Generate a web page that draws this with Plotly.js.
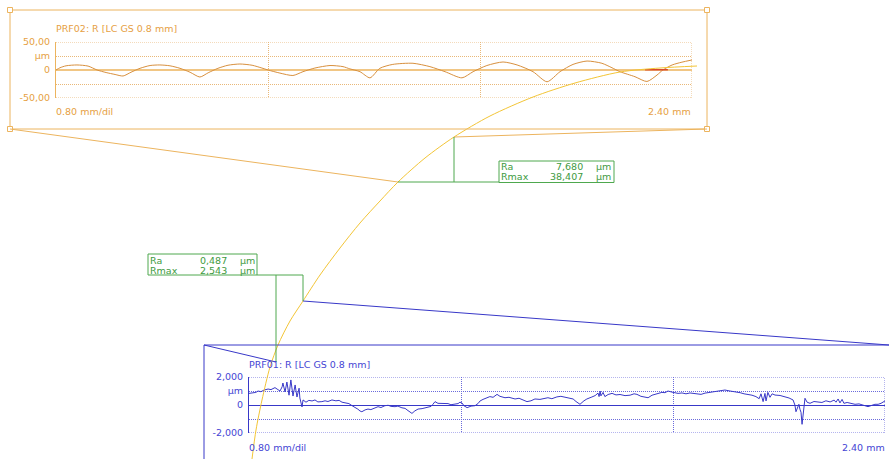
<!DOCTYPE html>
<html><head><meta charset="utf-8">
<script src="https://cdn.plot.ly/plotly-3.0.1.min.js"></script>
<style>html,body{margin:0;padding:0;background:#fff}#chart{width:889px;height:459px}</style>
</head><body><div id="chart"></div>
<script>
// PRF02 (orange) profile: position in mm, height in µm
const prf02X = [0.000,0.015,0.038,0.079,0.121,0.155,0.189,0.223,0.253,0.283,0.317,0.355,0.392,0.430,0.468,0.506,0.543,0.574,0.611,0.649,0.694,0.740,0.777,0.800,0.845,0.894,0.932,0.977,1.034,1.083,1.109,1.147,1.185,1.222,1.271,1.347,1.411,1.468,1.532,1.574,1.626,1.687,1.740,1.800,1.853,1.902,1.951,2.004,2.060,2.098,2.128,2.185,2.230,2.268,2.290,2.325,2.362,2.400];
const prf02Y = [0,4,7.5,9,7,0,-4.5,-8,-10.7,-4,3,8,9,7.5,3,-4,-12.5,-5,3,8.5,10.7,8.5,3.5,0,-5.5,-9.8,-3,3.5,8,6,2,-3,-14,3,10,12,6,-3,-14,-3,8,14.3,9,-3,-21,-3,10,16,12,4,-3,-12,-20.5,-9,0,9,14,17.9];
// highlighted segment on PRF02 zero line
const prf02HiX = [2.223, 2.309];
const prf02HiY = [0.5, 0.5];
// PRF01 (blue) profile: position in mm, height in µm
const prf01X = [0.000,0.015,0.026,0.034,0.045,0.057,0.072,0.083,0.098,0.109,0.117,0.125,0.128,0.136,0.143,0.151,0.158,0.166,0.174,0.181,0.189,0.192,0.200,0.204,0.215,0.226,0.238,0.249,0.260,0.275,0.287,0.298,0.313,0.328,0.340,0.351,0.366,0.377,0.389,0.400,0.411,0.419,0.426,0.438,0.449,0.460,0.472,0.487,0.498,0.513,0.525,0.536,0.551,0.562,0.577,0.589,0.600,0.608,0.615,0.626,0.638,0.653,0.664,0.675,0.687,0.694,0.702,0.713,0.725,0.740,0.751,0.762,0.777,0.789,0.796,0.804,0.811,0.823,0.838,0.853,0.864,0.872,0.883,0.898,0.909,0.921,0.936,0.947,0.966,0.981,0.992,1.004,1.019,1.034,1.049,1.064,1.079,1.098,1.113,1.128,1.143,1.162,1.177,1.196,1.211,1.223,1.234,1.249,1.264,1.275,1.291,1.306,1.317,1.321,1.325,1.328,1.336,1.343,1.355,1.370,1.385,1.400,1.419,1.438,1.453,1.464,1.479,1.494,1.506,1.521,1.532,1.543,1.558,1.570,1.581,1.596,1.608,1.619,1.634,1.649,1.664,1.683,1.694,1.706,1.721,1.743,1.762,1.781,1.796,1.815,1.834,1.853,1.868,1.883,1.898,1.913,1.925,1.932,1.940,1.947,1.951,1.958,1.966,1.974,1.985,2.004,2.023,2.038,2.053,2.060,2.064,2.072,2.075,2.079,2.083,2.087,2.091,2.094,2.098,2.106,2.117,2.132,2.147,2.162,2.177,2.193,2.208,2.215,2.223,2.230,2.238,2.245,2.257,2.272,2.287,2.302,2.317,2.336,2.351,2.362,2.374,2.385,2.400];
const prf01Y = [0.83,0.86,0.90,1.00,0.95,1.07,1.14,1.10,1.24,1.10,1.00,1.30,1.57,0.93,1.64,0.70,1.79,0.64,1.43,0.57,1.20,0.50,-0.14,0.36,0.20,0.33,0.29,0.36,0.22,0.24,0.30,0.25,0.36,0.30,0.33,0.20,0.12,0.10,-0.05,-0.15,-0.30,-0.43,-0.48,-0.35,-0.29,-0.33,-0.22,-0.12,-0.18,-0.05,-0.02,-0.10,-0.12,-0.08,-0.20,-0.24,-0.40,-0.50,-0.60,-0.42,-0.29,-0.26,-0.20,-0.17,-0.10,0.05,0.24,0.12,0.10,0.07,0.10,0.02,0.05,0.10,0.20,0.14,-0.05,-0.19,-0.08,-0.05,0.10,0.29,0.40,0.50,0.60,0.55,0.76,0.62,0.52,0.55,0.48,0.43,0.48,0.35,0.24,0.30,0.43,0.40,0.48,0.52,0.45,0.58,0.62,0.55,0.48,0.43,0.25,0.05,0.30,0.43,0.55,0.67,0.85,0.60,1.00,0.65,0.90,0.60,0.75,0.83,0.72,0.75,0.67,0.70,0.80,0.76,0.62,0.58,0.52,0.70,0.76,0.83,0.90,0.88,1.00,0.92,0.90,0.83,0.86,0.80,0.86,0.83,0.80,0.76,0.85,0.90,0.98,1.00,1.07,1.00,0.95,0.88,0.80,0.76,0.70,0.60,0.45,0.80,0.24,0.83,0.29,0.90,0.55,0.80,0.71,0.68,0.60,0.50,0.36,0.00,-0.48,-0.10,0.05,-0.30,-0.52,-1.38,-0.60,0.00,0.48,0.20,0.12,0.25,0.24,0.18,0.30,0.22,0.35,0.20,0.43,0.15,0.40,0.12,0.18,0.10,0.05,0.08,0.00,-0.12,-0.02,0.05,0.05,0.12,0.29];
// material-ratio style curve, in page units
const curveX = [252,256,262,270,278,290,303,320,340,360,380,398,425,454,490,533,575,620,660,697];
const curveY = [459,430,400,367,345,321,301,275,248,223,201,182,158,137,116,97,83,72,68,66];
// tick labels and texts
const yTicks02 = [50,25,0,-25,-50];
const yLabels02 = ['50,00','µm','0','','-50,00'];
const yTicks01 = [2,1,0,-1,-2];
const yLabels01 = ['2,000','µm','0','','-2,000'];
const xTicks = [0,0.8,1.6,2.4];
const title02 = 'PRF02: R [LC GS 0.8 mm]';
const title01 = 'PRF01: R [LC GS 0.8 mm]';
const stats02 = {labels:['Ra','Rmax'], values:['7,680','38,407'], unit:'µm'};
const stats01 = {labels:['Ra','Rmax'], values:['0,487','2,543'], unit:'µm'};

const W=889,H=459;
const OT='#E6A043', OF='#ECB45E', OG='#E9B878', OL='#D8903E', OZ='#F1C684';
const BT='#4545D4', BL='#3838C8', BG='#6A6ADC';
const GR='#4EA84E', GT='#3E9A3E', YE='#F3C536';
const FONT='DejaVu Sans';
const DOT='1px,1px';

const traces = [
  {x:prf02X,y:prf02Y,xaxis:'x',yaxis:'y',mode:'lines',line:{color:OL,width:1,shape:'spline',smoothing:0.7},hoverinfo:'skip'},
  {x:prf02HiX,y:prf02HiY,xaxis:'x',yaxis:'y',mode:'lines',line:{color:'#D9482E',width:1.5},hoverinfo:'skip'},
  {x:prf01X,y:prf01Y,xaxis:'x2',yaxis:'y2',mode:'lines',line:{color:BL,width:1},hoverinfo:'skip'},
  {x:curveX,y:curveY,xaxis:'x3',yaxis:'y3',mode:'lines',line:{color:YE,width:1,shape:'spline',smoothing:0.8},hoverinfo:'skip'}
];

function xa(dom,gc){return {domain:dom,range:[0,2.4],tickvals:xTicks,showticklabels:false,ticks:'',showgrid:true,gridcolor:gc,griddash:DOT,gridwidth:1,zeroline:false,showline:false,fixedrange:true};}
function ya(dom,rng,tv,tt,gc,lc,zc,zw,tc){return {domain:dom,range:rng,tickvals:tv,ticktext:tt,ticks:'',showgrid:true,gridcolor:gc,griddash:DOT,gridwidth:1,zeroline:true,zerolinecolor:zc,zerolinewidth:zw,showline:true,linecolor:lc,linewidth:1,tickfont:{family:FONT,size:9.5,color:tc},ticklabelstandoff:3,fixedrange:true};}

const layout = {
  width:W,height:H,margin:{l:0,r:0,t:0,b:0},paper_bgcolor:'#fff',plot_bgcolor:'rgba(0,0,0,0)',showlegend:false,
  font:{family:FONT,size:9.5},
  xaxis:Object.assign(xa([56/W,692/W],OG),{anchor:'y'}),
  yaxis:Object.assign(ya([1-98/H,1-42/H],[-50,50],yTicks02,yLabels02,OG,OF,OZ,2,OT),{anchor:'x'}),
  xaxis2:Object.assign(xa([249/W,885/W],BG),{anchor:'y2'}),
  yaxis2:Object.assign(ya([1-433/H,1-377/H],[-2,2],yTicks01,yLabels01,BG,BL,BL,1,BT),{anchor:'x2'}),
  xaxis3:{domain:[0,1],range:[0,W],visible:false,anchor:'y3',fixedrange:true},
  yaxis3:{domain:[0,1],range:[H,0],visible:false,anchor:'x3',fixedrange:true},
  shapes:[],annotations:[]
};
const S=layout.shapes, A=layout.annotations;
function ln(x0,y0,x1,y1,c,w){S.push({type:'line',xref:'x3',yref:'y3',x0,y0,x1,y1,line:{color:c,width:w||1},layer:'above'});}
function rc(x0,y0,x1,y1,c,fill){S.push({type:'rect',xref:'x3',yref:'y3',x0,y0,x1,y1,line:{color:c,width:1},fillcolor:fill||'rgba(0,0,0,0)',layer:'above'});}
function tx(t,x,y,c,anchor){A.push({text:t,xref:'x3',yref:'y3',x,y,xanchor:anchor||'left',yanchor:'middle',showarrow:false,font:{family:FONT,size:9.5,color:c},borderpad:0});}
// dotted plot borders (top, bottom, right) in each profile's own axes
function border(xr,yr,ymin,ymax,c){
  [[0,ymax,2.4,ymax],[0,ymin,2.4,ymin],[2.4,ymin,2.4,ymax]].forEach(s=>S.push({type:'line',xref:xr,yref:yr,x0:s[0],y0:s[1],x1:s[2],y1:s[3],line:{color:c,width:1,dash:DOT},layer:'below'}));
}
border('x','y',-50,50,OG);
border('x2','y2',-2,2,BG);

// orange frame
rc(10,10,707,129,OF);
[[10,10],[707,10],[10,129],[707,129]].forEach(p=>rc(p[0]-2.5,p[1]-2.5,p[0]+2.5,p[1]+2.5,OF,'#fff'));
ln(10,129,398,182,OF); ln(707,129,454,137,OF);
// blue frame
ln(204,345,889,345,BL); ln(204,345,204,459,BL);
ln(204,345,276,362,BL); ln(889,345,303,301,BL);
// green leaders and boxes
ln(454,137,454,182,GR); ln(398,182,499,182,GR); rc(499,161,614,182.5,GR);
rc(148,254,257,275,GR); ln(257,275,303,275,GR); ln(276,275,276,362,GR); ln(303,275,303,301,GR);

// texts
tx(title02,55,28,OT); tx('0.80 mm/dil',55,111,OT); tx('2.40 mm',692,111,OT,'right');
tx(title01,248,364,BT); tx('0.80 mm/dil',248,447,BT); tx('2.40 mm',886,447,BT,'right');
stats02.labels.forEach((l,i)=>{const y=166.5+i*10;tx(l,500,y,GT);tx(stats02.values[i],584,y,GT,'right');tx(stats02.unit,595,y,GT);});
stats01.labels.forEach((l,i)=>{const y=260+i*10.5;tx(l,149,y,GT);tx(stats01.values[i],228,y,GT,'right');tx(stats01.unit,239,y,GT);});

Plotly.newPlot('chart',traces,layout,{displayModeBar:false,staticPlot:true});
</script></body></html>
